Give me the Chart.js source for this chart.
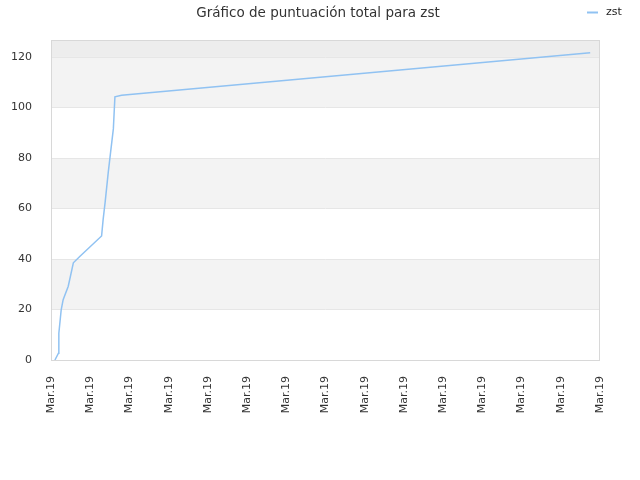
<!DOCTYPE html>
<html>
<head>
<meta charset="utf-8">
<script src="https://cdn.jsdelivr.net/npm/chart.js@4/dist/chart.umd.min.js"></script>
<style>
  html, body { margin: 0; padding: 0; background: #fff; }
  #wrap { width: 640px; height: 480px; }
</style>
</head>
<body>
<div id="wrap"><canvas id="chart" width="640" height="480"></canvas></div>
<script>
// values
const titleText = "Gráfico de puntuación total para zst";
const seriesName = "zst";
const xLabels = ["Mar.19", "Mar.19", "Mar.19", "Mar.19", "Mar.19", "Mar.19", "Mar.19", "Mar.19",
                 "Mar.19", "Mar.19", "Mar.19", "Mar.19", "Mar.19", "Mar.19", "Mar.19"];
const pointX = [0.10, 0.19, 0.20, 0.26, 0.31, 0.44, 0.57, 0.74, 1.29, 1.33, 1.38, 1.46, 1.52, 1.59, 1.63, 1.80, 13.75];
const pointY = [0, 2.7, 10.6, 19.9, 23.9, 29.2, 38.5, 41.1, 49.1, 55.7, 62.4, 74.3, 82.3, 91.5, 104.2, 104.8, 121.7];
const yTicks = [0, 20, 40, 60, 80, 100, 120];
const bandFrom = [20, 60, 100, 120];
const bandTo = [40, 80, 120, 126.7];
const bandColor = ["#f3f3f3", "#f3f3f3", "#f3f3f3", "#ededed"];

const lineColor = "#90c2f2";
const font = "DejaVu Sans";

// background bands + plot border
const plotDecor = {
    id: "plotDecor",
    beforeDatasetsDraw(chart) {
        const { ctx, chartArea: a, scales: { y } } = chart;
        ctx.save();
        for (let i = 0; i < bandFrom.length; i++) {
            const top = y.getPixelForValue(bandTo[i]);
            const bot = y.getPixelForValue(bandFrom[i]);
            ctx.fillStyle = bandColor[i];
            ctx.fillRect(a.left, top, a.right - a.left, bot - top);
        }
        ctx.strokeStyle = "#e6e6e6";
        ctx.lineWidth = 1;
        yTicks.forEach(v => {
            const py = Math.round(y.getPixelForValue(v)) + 0.5;
            ctx.beginPath();
            ctx.moveTo(a.left, py);
            ctx.lineTo(a.right, py);
            ctx.stroke();
        });
        ctx.strokeStyle = "#d8d8d8";
        ctx.strokeRect(Math.round(a.left) + 0.5, Math.round(a.top) + 0.5,
            Math.round(a.right - a.left) - 1, Math.round(a.bottom - a.top));
        ctx.restore();
    },
    afterDraw(chart) {
        const { ctx } = chart;
        ctx.save();
        ctx.fillStyle = "#333";
        ctx.font = "13.5px '" + font + "'";
        ctx.textAlign = "center";
        ctx.textBaseline = "middle";
        ctx.fillText(titleText, 318, 13);
        // legend
        ctx.strokeStyle = lineColor;
        ctx.lineWidth = 2;
        ctx.beginPath();
        ctx.moveTo(587, 12.5);
        ctx.lineTo(598, 12.5);
        ctx.stroke();
        ctx.font = "11px '" + font + "'";
        ctx.textAlign = "left";
        ctx.fillStyle = "#222";
        ctx.fillText(seriesName, 606, 12);
        ctx.restore();
    }
};

new Chart(document.getElementById("chart"), {
    type: "line",
    data: {
        datasets: [{
            label: seriesName,
            data: pointX.map((x, i) => ({ x: x, y: pointY[i] })),
            borderColor: lineColor,
            borderWidth: 1.5,
            pointRadius: 0,
            fill: false,
            tension: 0
        }]
    },
    options: {
        responsive: false,
        animation: false,
        layout: { padding: { left: 0, right: 40, top: 40, bottom: 0 } },
        plugins: {
            legend: { display: false },
            title: { display: false },
            tooltip: { enabled: false }
        },
        scales: {
            x: {
                type: "linear",
                min: 0,
                max: xLabels.length - 1,
                grid: { display: false },
                border: { display: false },
                afterFit: s => { s.height = 120; },
                ticks: {
                    stepSize: 1,
                    autoSkip: false,
                    minRotation: 90,
                    maxRotation: 90,
                    padding: 8,
                    color: "#333",
                    font: { family: font, size: 11 },
                    callback: v => xLabels[v]
                }
            },
            y: {
                min: 0,
                max: 126.7,
                grid: { display: false },
                border: { display: false },
                afterFit: s => { s.width = 51; },
                afterBuildTicks: s => { s.ticks = yTicks.map(v => ({ value: v })); },
                ticks: {
                    padding: 11,
                    color: "#333",
                    font: { family: font, size: 11 }
                }
            }
        }
    },
    plugins: [plotDecor]
});
</script>
</body>
</html>
